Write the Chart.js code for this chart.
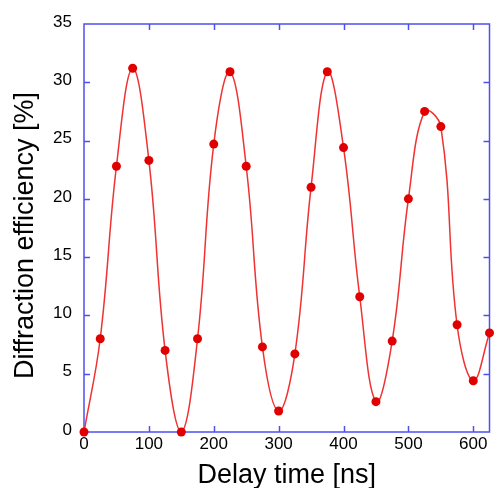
<!DOCTYPE html>
<html>
<head>
<meta charset="utf-8">
<script src="https://cdn.jsdelivr.net/npm/chart.js@4"></script>
<style>
  html, body { margin: 0; padding: 0; background: #fff; }
  #box { width: 494px; height: 488px; }
</style>
</head>
<body>
<div id="box"><canvas id="graf"></canvas></div>
<script>
// delay time [ns] and measured diffraction efficiency [%]
const delayTimes = [0, 25, 50, 75, 100, 125, 150, 175, 200, 225, 250, 275, 300,
                    325, 350, 375, 400, 425, 450, 475, 500, 525, 550, 575, 600, 625]
const efficiency = [0, 8.0, 22.8, 31.2, 23.3, 7.0, 0, 8.0, 24.7, 30.9, 22.8, 7.3, 1.8,
                    6.7, 21.0, 30.9, 24.4, 11.6, 2.6, 7.8, 20.0, 27.5, 26.2, 9.2, 4.4, 8.5]
const xTicks = [0, 100, 200, 300, 400, 500, 600]
const yTicks = [0, 5, 10, 15, 20, 25, 30, 35]

const frameColor = '#4f4ff0'
const font = 'Arial, "Liberation Sans", sans-serif'

// blue frame with inward tick marks on all four sides
const moldura = {
  id: 'moldura',
  beforeDatasetsDraw(chart) {
    const ctx = chart.ctx
    const a = chart.chartArea
    const sx = chart.scales.x
    const sy = chart.scales.y
    const len = 6
    ctx.save()
    ctx.strokeStyle = frameColor
    ctx.lineWidth = 1.5
    ctx.beginPath()
    xTicks.forEach(v => {
      if (v === 0) return
      const px = Math.round(sx.getPixelForValue(v)) + 0.5
      ctx.moveTo(px, a.bottom); ctx.lineTo(px, a.bottom - len)
      ctx.moveTo(px, a.top); ctx.lineTo(px, a.top + len)
    })
    yTicks.forEach(v => {
      if (v === 0 || v === 35) return
      const py = Math.round(sy.getPixelForValue(v)) + 0.5
      ctx.moveTo(a.left, py); ctx.lineTo(a.left + len, py)
      ctx.moveTo(a.right, py); ctx.lineTo(a.right - len, py)
    })
    ctx.stroke()
    ctx.strokeRect(a.left, a.top, a.right - a.left, a.bottom - a.top)
    ctx.restore()
  }
}

const pontos = delayTimes.map((t, i) => ({ x: t, y: efficiency[i] }))

new Chart(document.getElementById('graf'), {
  type: 'line',
  data: {
    datasets: [{
      data: pontos,
      borderColor: 'rgb(240, 50, 50)',
      borderWidth: 1.5,
      backgroundColor: 'rgb(225, 0, 0)',
      pointBackgroundColor: 'rgb(225, 0, 0)',
      pointBorderWidth: 0,
      pointRadius: 4.5,
      tension: 0.4,
      clip: false
    }]
  },
  options: {
    responsive: true,
    maintainAspectRatio: false,
    animation: false,
    layout: { padding: { top: 24, right: 2, left: 0, bottom: 0 } },
    plugins: {
      legend: { display: false },
      tooltip: { enabled: false }
    },
    scales: {
      x: {
        type: 'linear',
        min: 0,
        max: 625,
        afterFit: s => { s.height = 56 },
        afterBuildTicks: s => { s.ticks = xTicks.map(v => ({ value: v })) },
        grid: { display: false, drawTicks: false },
        border: { display: false },
        ticks: { padding: 2, color: '#000', font: { family: font, size: 17 }, maxRotation: 0 },
        title: {
          display: true,
          text: 'Delay time [ns]',
          color: '#000',
          font: { family: font, size: 27 },
          padding: { top: 0, bottom: -4 }
        }
      },
      y: {
        min: 0,
        max: 35,
        afterFit: s => { s.width = 84 },
        afterBuildTicks: s => { s.ticks = yTicks.map(v => ({ value: v })) },
        grid: { display: false, drawTicks: false },
        border: { display: false },
        ticks: { padding: 12, labelOffset: -2, color: '#000', font: { family: font, size: 17 } },
        title: {
          display: true,
          text: 'Diffraction efficiency [%]  ',
          color: '#000',
          font: { family: font, size: 27 },
          padding: { top: 9, bottom: 0 }
        }
      }
    }
  },
  plugins: [moldura]
})
</script>
</body>
</html>
